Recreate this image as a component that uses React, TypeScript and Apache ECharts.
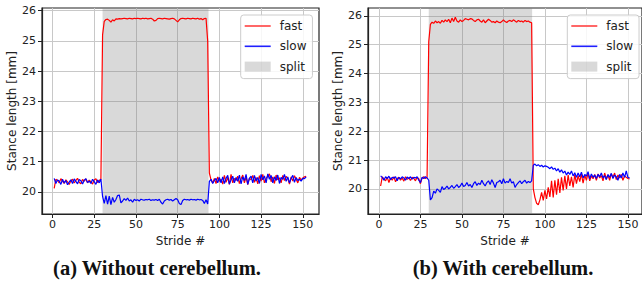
import React, { useEffect, useRef } from "react";
import * as echarts from "echarts";

// ---- data ----
const strideTicks = [0, 25, 50, 75, 100, 125, 150];
const lengthTicks = [20, 21, 22, 23, 24, 25, 26];
const seriesNames = ["fast", "slow", "split"];
const yAxisName = "Stance length [mm]";
const xAxisName = "Stride #";
const captions = ["(a) Without cerebellum.", "(b) With cerebellum."];

// (a) without cerebellum, strides 1..152
const fastA = [
  20.12, 20.42, 20.38, 20.30, 20.44, 20.36, 20.28, 20.40, 20.33, 20.25,
  20.37, 20.42, 20.30, 20.38, 20.45, 20.32, 20.27, 20.41, 20.36, 20.43,
  20.30, 20.39, 20.34, 20.26, 20.40, 20.44, 20.31, 20.38, 20.42, 25.20,
  25.65, 25.71, 25.72, 25.68, 25.62, 25.70, 25.66, 25.73, 25.72, 25.74,
  25.73, 25.74, 25.75, 25.74, 25.73, 25.75, 25.74, 25.73, 25.75, 25.74,
  25.75, 25.74, 25.73, 25.75, 25.74, 25.75, 25.73, 25.74, 25.75, 25.72,
  25.66, 25.68, 25.74, 25.75, 25.74, 25.73, 25.75, 25.74, 25.73, 25.72,
  25.74, 25.75, 25.73, 25.68, 25.63, 25.70, 25.74, 25.75, 25.74, 25.73,
  25.75, 25.74, 25.73, 25.75, 25.74, 25.73, 25.75, 25.72, 25.74, 25.70,
  25.74, 25.75, 25.00, 20.62, 20.40, 20.30, 20.45, 20.28, 20.50, 20.35,
  20.42, 20.26, 20.55, 20.32, 20.48, 20.25, 20.58, 20.30, 20.45, 20.38,
  20.52, 20.28, 20.44, 20.56, 20.30, 20.50, 20.24, 20.46, 20.40, 20.55,
  20.32, 20.48, 20.27, 20.54, 20.36, 20.58, 20.30, 20.45, 20.52, 20.60,
  20.34, 20.50, 20.28, 20.56, 20.40, 20.47, 20.30, 20.55, 20.38, 20.52,
  20.44, 20.26, 20.50, 20.36, 20.54, 20.42, 20.30, 20.48, 20.40, 20.46,
  20.50, 20.52,
];
const slowA = [
  20.45, 20.28, 20.40, 20.36, 20.25, 20.42, 20.30, 20.38, 20.24, 20.33,
  20.40, 20.28, 20.43, 20.35, 20.27, 20.41, 20.37, 20.26, 20.39, 20.44,
  20.31, 20.36, 20.28, 20.42, 20.34, 20.25, 20.40, 20.30, 20.43, 19.85,
  19.62, 19.88, 19.60, 19.86, 19.58, 19.82, 19.66, 19.75, 19.88, 19.90,
  19.64, 19.70, 19.78, 19.72, 19.80, 19.70, 19.74, 19.66, 19.76, 19.72,
  19.74, 19.70, 19.76, 19.74, 19.73, 19.75, 19.74, 19.76, 19.72, 19.74,
  19.73, 19.75, 19.72, 19.76, 19.66, 19.60, 19.70, 19.74, 19.76, 19.73,
  19.75, 19.70, 19.74, 19.78, 19.74, 19.62, 19.58, 19.72, 19.76, 19.74,
  19.75, 19.73, 19.76, 19.74, 19.75, 19.73, 19.76, 19.74, 19.75, 19.72,
  19.62, 19.74, 19.60, 20.35, 20.42, 20.28, 20.38, 20.45, 20.30, 20.48,
  20.30, 20.50, 20.28, 20.45, 20.55, 20.26, 20.40, 20.52, 20.30, 20.48,
  20.35, 20.56, 20.27, 20.50, 20.38, 20.58, 20.25, 20.45, 20.52, 20.30,
  20.55, 20.36, 20.48, 20.28, 20.58, 20.40, 20.53, 20.30, 20.60, 20.42,
  20.55, 20.30, 20.50, 20.38, 20.56, 20.28, 20.48, 20.42, 20.58, 20.35,
  20.50, 20.30, 20.45, 20.55, 20.32, 20.48, 20.38, 20.42, 20.36, 20.45,
  20.44, 20.50,
];
const splitA = [30, 93.5];

// (b) with cerebellum, strides 1..151
const fastB = [
  20.10, 20.42, 20.35, 20.28, 20.40, 20.22, 20.38, 20.30, 20.42, 20.25,
  20.36, 20.40, 20.30, 20.38, 20.27, 20.42, 20.33, 20.38, 20.29, 20.40,
  20.36, 20.28, 20.40, 20.35, 20.18, 20.38, 20.42, 20.36, 20.40, 25.10,
  25.70, 25.78, 25.74, 25.82, 25.76, 25.80, 25.74, 25.84, 25.78, 25.86,
  25.80, 25.88, 25.76, 25.92, 25.80, 25.95, 25.82, 25.78, 25.86, 25.80,
  25.84, 25.90, 25.88, 25.86, 25.90, 25.89, 25.84, 25.80, 25.86, 25.88,
  25.82, 25.78, 25.86, 25.76, 25.82, 25.88, 25.84, 25.78, 25.80, 25.76,
  25.82, 25.78, 25.76, 25.80, 25.86, 25.80, 25.77, 25.82, 25.84, 25.80,
  25.86, 25.82, 25.78, 25.84, 25.80, 25.82, 25.78, 25.84, 25.80, 25.82,
  25.78, 25.76, 20.00, 19.70, 19.50, 19.45, 19.62, 19.88, 19.60, 19.95,
  19.65, 20.05, 19.72, 20.28, 19.70, 20.30, 19.80, 20.35, 19.86, 20.40,
  19.95, 20.45, 20.00, 20.48, 20.10, 20.42, 20.05, 20.50, 20.18, 20.46,
  20.25, 20.52, 20.20, 20.48, 20.30, 20.55, 20.28, 20.45, 20.35, 20.50,
  20.30, 20.52, 20.38, 20.46, 20.28, 20.55, 20.35, 20.48, 20.30, 20.52,
  20.40, 20.55, 20.32, 20.48, 20.38, 20.50, 20.30, 20.45, 20.40, 20.36,
  20.35,
];
const slowB = [
  20.45, 20.40, 20.30, 20.42, 20.36, 20.44, 20.32, 20.40, 20.38, 20.42,
  20.28, 20.40, 20.35, 20.42, 20.38, 20.30, 20.41, 20.36, 20.42, 20.34,
  20.40, 20.38, 20.42, 20.30, 20.22, 20.40, 20.36, 20.42, 20.38, 20.30,
  19.62, 19.70, 19.92, 19.85, 20.00, 19.95, 19.88, 20.08, 19.98, 20.02,
  20.10, 20.00, 20.05, 20.12, 20.02, 20.08, 20.15, 20.05, 20.10, 20.20,
  20.08, 20.12, 20.22, 20.10, 20.15, 20.05, 20.18, 20.25, 20.12, 20.20,
  20.15, 20.30, 20.18, 20.10, 20.22, 20.28, 20.15, 20.32, 20.20, 20.05,
  20.22, 20.25, 20.30, 20.18, 20.35, 20.20, 20.26, 20.22, 20.35, 20.20,
  20.25, 20.05, 20.15, 20.22, 20.28, 20.18, 20.25, 20.30, 20.20, 20.26,
  20.22, 20.28, 20.82, 20.86, 20.80, 20.84, 20.78, 20.82, 20.76, 20.80,
  20.78, 20.75, 20.70, 20.76, 20.68, 20.72, 20.62, 20.70, 20.58, 20.66,
  20.55, 20.62, 20.48, 20.58, 20.50, 20.62, 20.45, 20.56, 20.40, 20.55,
  20.42, 20.58, 20.38, 20.50, 20.44, 20.60, 20.35, 20.52, 20.40, 20.48,
  20.36, 20.50, 20.42, 20.55, 20.38, 20.46, 20.32, 20.50, 20.40, 20.54,
  20.36, 20.48, 20.42, 20.30, 20.50, 20.38, 20.55, 20.40, 20.62, 20.40,
  20.38,
];
const splitB = [30, 92.3];

const toPairs = (arr: number[]) => arr.map((v, i) => [i + 1, v]);

const FONT = "DejaVu Sans";
const INK = "#222";
const SHADE = "rgba(128,128,128,0.3)";
const LINE_ICON = "path://M0,0H26V1.6H0Z";

export default function App() {
  const ref = useRef<HTMLDivElement>(null);

  useEffect(() => {
    if (!ref.current) return;
    const chart = echarts.init(ref.current, undefined, { renderer: "svg" });

    const grids = [
      { left: 42, top: 8, width: 277, height: 206 },
      { left: 368, top: 8, width: 278, height: 206 },
    ];
    const xRanges = [
      [-6.3, 159.7],
      [-6.6, 158.5],
    ];
    const yRanges = [
      [19.27, 26.09],
      [19.13, 26.27],
    ];

    const mkX = (i: number) => ({
      gridIndex: i,
      type: "value",
      min: xRanges[i][0],
      max: xRanges[i][1],
      name: xAxisName,
      nameLocation: "middle",
      nameGap: 19,
      nameTextStyle: { fontSize: 12, color: INK, fontFamily: FONT },
      axisLine: { show: true, onZero: false, lineStyle: { color: INK, width: 1.2 } },
      axisTick: { show: true, customValues: strideTicks, length: 4, lineStyle: { color: INK, width: 1 } },
      axisLabel: { customValues: strideTicks, fontSize: 11, color: INK, margin: 5, fontFamily: FONT },
      splitLine: { show: true, lineStyle: { color: "#c8c8c8", width: 1 } },
    });
    const mkY = (i: number) => ({
      gridIndex: i,
      type: "value",
      min: yRanges[i][0],
      max: yRanges[i][1],
      name: yAxisName,
      nameLocation: "middle",
      nameGap: 23,
      nameRotate: 90,
      nameTextStyle: { fontSize: 12, color: INK, fontFamily: FONT },
      axisLine: { show: true, onZero: false, lineStyle: { color: INK, width: 1.2 } },
      axisTick: { show: true, customValues: lengthTicks, length: 4, lineStyle: { color: INK, width: 1 } },
      axisLabel: { customValues: lengthTicks, fontSize: 11, color: INK, margin: 6, fontFamily: FONT },
      splitLine: { show: true, lineStyle: { color: "#c8c8c8", width: 1 } },
    });

    const datasets = [
      { fast: fastA, slow: slowA, split: splitA },
      { fast: fastB, slow: slowB, split: splitB },
    ];

    const series: any[] = [];
    datasets.forEach((d, i) => {
      series.push({
        name: seriesNames[2],
        type: "line",
        xAxisIndex: i,
        yAxisIndex: i,
        data: [],
        z: 1,
        itemStyle: { color: SHADE },
        lineStyle: { color: SHADE },
        markArea: {
          silent: true,
          itemStyle: { color: SHADE },
          data: [[{ xAxis: d.split[0] }, { xAxis: d.split[1] }]],
        },
      });
      series.push({
        name: seriesNames[0],
        type: "line",
        xAxisIndex: i,
        yAxisIndex: i,
        data: toPairs(d.fast),
        showSymbol: false,
        symbol: "none",
        z: 3,
        itemStyle: { color: "#ff0000" },
        lineStyle: { color: "#ff0000", width: 1.2 },
      });
      series.push({
        name: seriesNames[1],
        type: "line",
        xAxisIndex: i,
        yAxisIndex: i,
        data: toPairs(d.slow),
        showSymbol: false,
        symbol: "none",
        z: 4,
        itemStyle: { color: "#0000ff" },
        lineStyle: { color: "#0000ff", width: 1.2 },
      });
    });

    const mkLegend = (left: number) => ({
      left,
      top: 15,
      orient: "vertical",
      itemWidth: 26,
      itemHeight: 10,
      itemGap: 8.3,
      padding: [5, 6, 6, 4],
      borderColor: "#cccccc",
      borderWidth: 1,
      borderRadius: 3,
      backgroundColor: "rgba(255,255,255,0.85)",
      textStyle: { fontSize: 12, color: INK, fontFamily: FONT, padding: [0, 0, 0, 4] },
      selectedMode: false,
      data: [
        { name: seriesNames[0], icon: LINE_ICON, itemStyle: { color: "#ff4040" } },
        { name: seriesNames[1], icon: LINE_ICON, itemStyle: { color: "#2020ff" } },
        { name: seriesNames[2], icon: "rect", itemStyle: { color: SHADE } },
      ],
    });

    const capFont = 'bold 20.5px "Liberation Serif"';

    chart.setOption({
      animation: false,
      backgroundColor: "#ffffff",
      grid: grids.map((g) => ({ ...g, show: true, borderColor: INK, borderWidth: 1.2, backgroundColor: "transparent" })),
      xAxis: [mkX(0), mkX(1)],
      yAxis: [mkY(0), mkY(1)],
      legend: [mkLegend(240.7), mkLegend(567.3)],
      series,
      graphic: [
        {
          type: "text",
          x: 157,
          y: 268,
          style: { text: captions[0], font: capFont, fill: "#111", align: "center", verticalAlign: "middle" },
        },
        {
          type: "text",
          x: 503,
          y: 268,
          style: { text: captions[1], font: capFont, fill: "#111", align: "center", verticalAlign: "middle" },
        },
      ],
    });

    return () => chart.dispose();
  }, []);

  return (
    <div
      ref={ref}
      style={{ position: "fixed", left: 0, top: 0, width: 642, height: 289 }}
    />
  );
}
